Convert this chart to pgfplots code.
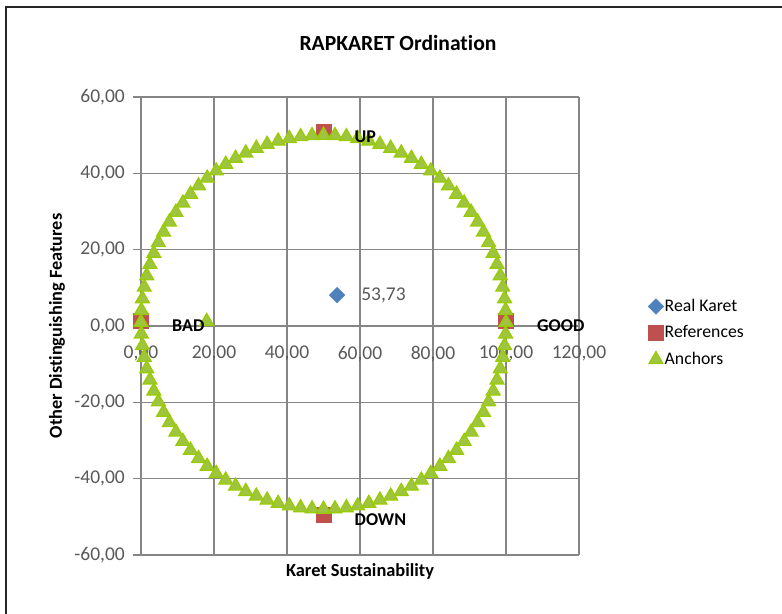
\documentclass[border=0pt]{standalone}
\usepackage{pgfplots}
\pgfplotsset{compat=1.18}
\usepackage{fontspec}
\setmainfont{Carlito}[Ligatures={NoCommon}]
\definecolor{gridgray}{RGB}{134,134,134}
\definecolor{ticktext}{RGB}{89,89,89}
\definecolor{kblue}{RGB}{79,129,189}
\definecolor{kred}{RGB}{192,80,77}
\definecolor{kgreenfill}{RGB}{158,196,64}
\definecolor{kgreendraw}{RGB}{153,204,0}

\pgfplotstableread{
x y
100.00 1.00
99.90 4.08
99.61 7.14
99.11 10.18
98.43 13.19
97.55 16.14
96.49 19.04
95.24 21.86
93.82 24.61
92.22 27.26
90.45 29.80
88.53 32.23
86.45 34.54
84.23 36.72
81.87 38.75
79.39 40.64
76.79 42.37
74.09 43.94
71.29 45.34
68.41 46.56
65.45 47.60
62.43 48.46
59.37 49.13
56.27 49.61
53.14 49.90
50.00 50.00
46.86 49.90
43.73 49.61
40.63 49.13
37.57 48.46
34.55 47.60
31.59 46.56
28.71 45.34
25.91 43.94
23.21 42.37
20.61 40.64
18.13 38.75
15.77 36.72
13.55 34.54
11.47 32.23
9.55 29.80
7.78 27.26
6.18 24.61
4.76 21.86
3.51 19.04
2.45 16.14
1.57 13.19
0.89 10.18
0.39 7.14
0.10 4.08
0.00 1.00
0.10 -2.08
0.39 -5.14
0.89 -8.18
1.57 -11.19
2.45 -14.14
3.51 -17.04
4.76 -19.86
6.18 -22.61
7.78 -25.26
9.55 -27.80
11.47 -30.23
13.55 -32.54
15.77 -34.72
18.13 -36.75
20.61 -38.64
23.21 -40.37
25.91 -41.94
28.71 -43.34
31.59 -44.56
34.55 -45.60
37.57 -46.46
40.63 -47.13
43.73 -47.61
46.86 -47.90
50.00 -48.00
53.14 -47.90
56.27 -47.61
59.37 -47.13
62.43 -46.46
65.45 -45.60
68.41 -44.56
71.29 -43.34
74.09 -41.94
76.79 -40.37
79.39 -38.64
81.87 -36.75
84.23 -34.72
86.45 -32.54
88.53 -30.23
90.45 -27.80
92.22 -25.26
93.82 -22.61
95.24 -19.86
96.49 -17.04
97.55 -14.14
98.43 -11.19
99.11 -8.18
99.61 -5.14
99.90 -2.08
18.00 1.20
}\anchors

\pgfplotstableread{
x y label
0 1.5 BAD
100 1.5 GOOD
50 51 UP
50 -49.5 DOWN
}\references

\pgfplotstableread{
x y label
53.73 8.1 53,73
}\realkaret

\begin{document}
\begin{tikzpicture}
\path[use as bounding box] (-141bp,-59bp) rectangle (641bp,555bp);
\draw[line width=1.6bp, black!85] (-135bp,-60bp) -- (-135bp,548bp) -- (642bp,548bp);
\begin{axis}[
  at={(0,0)}, anchor=south west,
  scale only axis, width=438bp, height=458bp,
  xmin=0, xmax=120, ymin=-60, ymax=60,
  xtick={0,20,40,60,80,100,120}, ytick={-60,-40,-20,0,20,40,60},
  axis x line=middle, axis y line=left,
  axis line style={-, gridgray, line width=1.5bp},
  hide obscured x ticks=false, hide obscured y ticks=false,
  grid=major, major grid style={gridgray, line width=1.5bp},
  tick align=center, major tick length=16bp,
  tick style={gridgray, line width=1.5bp},
  /pgf/number format/fixed, /pgf/number format/fixed zerofill,
  /pgf/number format/precision=2, /pgf/number format/use comma,
  /pgf/number format/assume math mode=true,
  ticklabel style={font=\fontsize{19.5bp}{23bp}\selectfont, text=ticktext, inner sep=0pt},
  xticklabel style={anchor=north, yshift=-12bp},
  yticklabel style={anchor=east, xshift=-8bp},
  title={RAPKARET Ordination},
  title style={at={(axis description cs:0.5868,1.1040)}, anchor=center, font=\fontsize{21.6bp}{25bp}\selectfont\bfseries, inner sep=0pt},
  xlabel={Karet Sustainability},
  xlabel style={at={(axis description cs:0.5,-0.0371)}, anchor=center, font=\fontsize{18.4bp}{22bp}\selectfont\bfseries, inner sep=0pt},
  ylabel={Other Distinguishing Features},
  ylabel style={at={(axis description cs:-0.1918,0.5)}, anchor=center, rotate=0, font=\fontsize{18.3bp}{22bp}\selectfont\bfseries, inner sep=0pt},
  legend style={at={(axis description cs:1.1575,0.4847)}, anchor=west, draw=none, fill=none,
    font=\fontsize{17.7bp}{21bp}\selectfont, inner sep=0pt, row sep=9.5bp,
    nodes={inner sep=1bp, text height=12bp, text depth=3bp, anchor=west}},
  legend cell align=left,
  legend image code/.code={\draw[#1] plot coordinates {(0bp,0bp)};},
  clip=false,
]
\addplot[only marks, mark=square*, mark size=5.5bp, mark options={rotate=45, fill=kblue, draw=kblue}] table[x=x,y=y] {\realkaret};
\addlegendentry{Real Karet}
\addplot[only marks, mark=square*, mark size=7.5bp, mark options={fill=kred, draw=kred}] table[x=x,y=y] {\references};
\addlegendentry{References}
\addplot[only marks, mark=triangle*, mark size=8bp, mark options={fill=kgreenfill, draw=kgreendraw, line width=1.2bp}] table[x=x,y=y] {\anchors};
\addlegendentry{Anchors}
\addplot[forget plot, draw=none, mark=none, nodes near coords, point meta=explicit symbolic,
  nodes near coords style={anchor=west, xshift=31bp, yshift=-5bp, inner sep=0pt, text=black, font=\fontsize{18bp}{21bp}\selectfont\bfseries}]
  table[x=x,y=y,meta=label] {\references};
\addplot[forget plot, draw=none, mark=none, nodes near coords, point meta=explicit symbolic,
  nodes near coords style={anchor=west, xshift=24bp, inner sep=0pt, text=ticktext, font=\fontsize{19.5bp}{23bp}\selectfont}]
  table[x=x,y=y,meta=label] {\realkaret};
\end{axis}
\end{tikzpicture}
\end{document}
